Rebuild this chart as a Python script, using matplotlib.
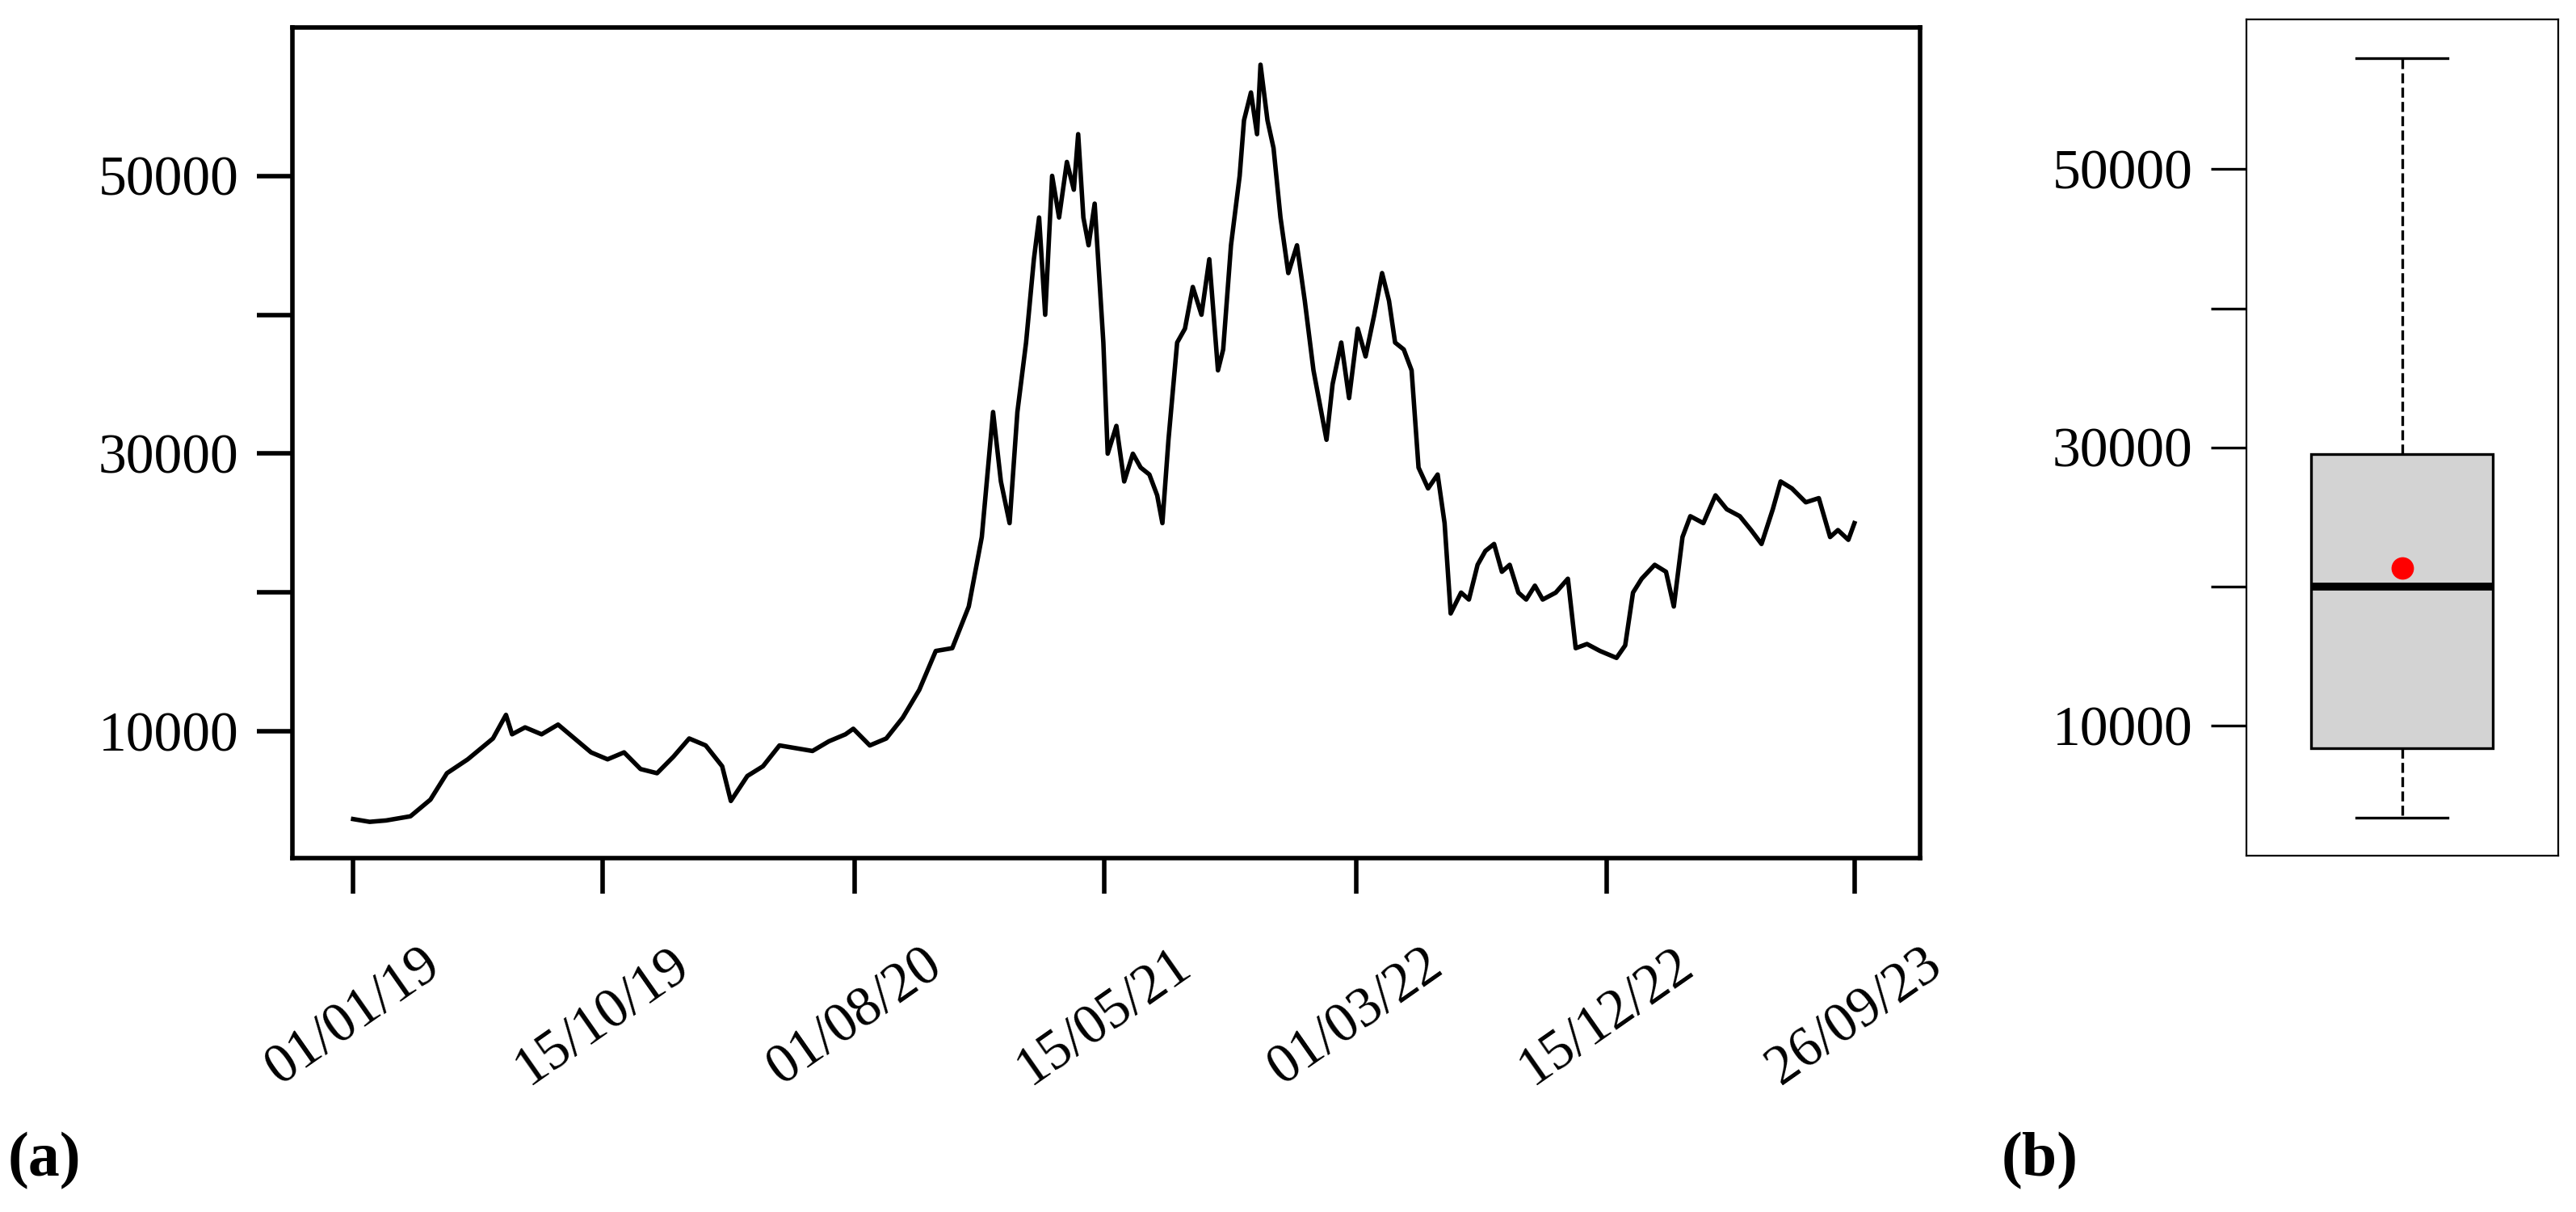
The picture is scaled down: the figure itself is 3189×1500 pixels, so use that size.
import numpy as np
import pandas as pd
import matplotlib.pyplot as plt

plt.rcParams['font.family'] = ['Liberation Serif', 'DejaVu Serif']

# days since 2019-01-01 and price values
days = [0, 19, 38, 66, 89, 108, 132, 161, 176, 183, 198, 217, 236, 255, 274, 293, 312, 331, 350,
        369, 387, 406, 425, 435, 454, 472, 491, 510, 529, 548, 567, 576, 595, 614, 633, 652, 671,
        690, 709, 724, 737, 746, 756, 765, 775, 784, 790, 797, 805, 813, 822, 830, 835, 841, 847,
        854, 864, 869, 879, 888, 898, 907, 917, 926, 932, 939, 949, 958, 967, 977, 986, 996, 1002,
        1011, 1021, 1026, 1034, 1041, 1045, 1053, 1060, 1068, 1077, 1087, 1096, 1106, 1115, 1121,
        1128, 1138, 1147, 1157, 1166, 1176, 1185, 1193, 1200, 1210, 1219, 1227, 1238, 1249, 1257,
        1264, 1276, 1285, 1295, 1304, 1314, 1323, 1332, 1342, 1351, 1361, 1370, 1385, 1399, 1408,
        1421, 1436, 1455, 1465, 1474, 1484, 1499, 1512, 1521, 1531, 1540, 1555, 1569, 1582, 1597,
        1610, 1622, 1635, 1644, 1657, 1673, 1688, 1701, 1710, 1722, 1729]
price = [3700, 3500, 3600, 3900, 5100, 7000, 8000, 9500, 11200, 9800, 10300, 9800, 10500, 9500,
         8500, 8000, 8500, 7300, 7000, 8200, 9500, 9000, 7500, 5000, 6800, 7500, 9000, 8800, 8600,
         9300, 9800, 10200, 9000, 9500, 11000, 13000, 15800, 16000, 19000, 24000, 33000, 28000,
         25000, 33000, 38000, 44000, 47000, 40000, 50000, 47000, 51000, 49000, 53000, 47000, 45000,
         48000, 38000, 30000, 32000, 28000, 30000, 29000, 28500, 27000, 25000, 31000, 38000, 39000,
         42000, 40000, 44000, 36000, 37500, 45000, 50000, 54000, 56000, 53000, 58000, 54000, 52000,
         47000, 43000, 45000, 41000, 36000, 33000, 31000, 35000, 38000, 34000, 39000, 37000, 40000,
         43000, 41000, 38000, 37500, 36000, 29000, 27500, 28500, 25000, 18500, 20000, 19500, 22000,
         23000, 23500, 21500, 22000, 20000, 19500, 20500, 19500, 20000, 21000, 16000, 16300, 15800,
         15300, 16200, 20000, 21000, 22000, 21500, 19000, 24000, 25500, 25000, 27000, 26000, 25500,
         24500, 23500, 26000, 28000, 27500, 26500, 26800, 24000, 24500, 23800, 25000]

tick_dates = ['2019-01-01', '2019-10-15', '2020-08-01', '2021-05-15', '2022-03-01', '2022-12-15', '2023-09-26']
tick_labels = ['01/01/19', '15/10/19', '01/08/20', '15/05/21', '01/03/22', '15/12/22', '26/09/23']

# boxplot summary
box_stats = dict(whislo=3400, q1=8400, med=20000, q3=29500, whishi=58000, mean=21300, fliers=[])

dates = pd.Timestamp('2019-01-01') + pd.to_timedelta(days, unit='D')
yticks = [10000, 20000, 30000, 40000, 50000]
ylabels = ['10000', '', '30000', '', '50000']

fig = plt.figure(figsize=(15.945, 7.5), dpi=200)
ax = fig.add_axes([0.1135, 0.292, 0.632, 0.685])
ax.plot(dates, price, color='black', lw=2)
ax.set_xticks(pd.to_datetime(tick_dates))
ax.set_xticklabels(tick_labels, rotation=35, ha='center', fontsize=25)
ax.set_yticks(yticks)
ax.set_yticklabels(ylabels, fontsize=25)
ax.set_ylim(890, 60650)
ax.set_xlim(pd.Timestamp('2018-10-23'), pd.Timestamp('2023-12-11'))
ax.tick_params(axis='x', length=16, width=2, pad=20)
ax.tick_params(axis='y', length=16, width=2, pad=8)
for s in ax.spines.values():
    s.set_linewidth(2)

bx = fig.add_axes([0.872, 0.294, 0.121, 0.690])
bx.bxp([box_stats], widths=0.7, patch_artist=True, showfliers=False,
       boxprops=dict(facecolor='lightgray', edgecolor='black', lw=1.2),
       medianprops=dict(color='black', lw=3.5),
       whiskerprops=dict(ls='--', lw=1.2), capprops=dict(lw=1.2))
bx.plot(1, box_stats['mean'], 'o', color='red', ms=9)
bx.set_xlim(0.4, 1.6)
bx.set_ylim(650, 60770)
bx.set_xticks([])
bx.set_yticks(yticks)
bx.set_yticklabels(ylabels, fontsize=25)
bx.tick_params(axis='y', length=16, width=1.2, pad=8)

fig.text(0.003, 0.03, '(a)', fontsize=28, fontweight='bold')
fig.text(0.777, 0.03, '(b)', fontsize=28, fontweight='bold')

fig.savefig('out.png', dpi=200)
